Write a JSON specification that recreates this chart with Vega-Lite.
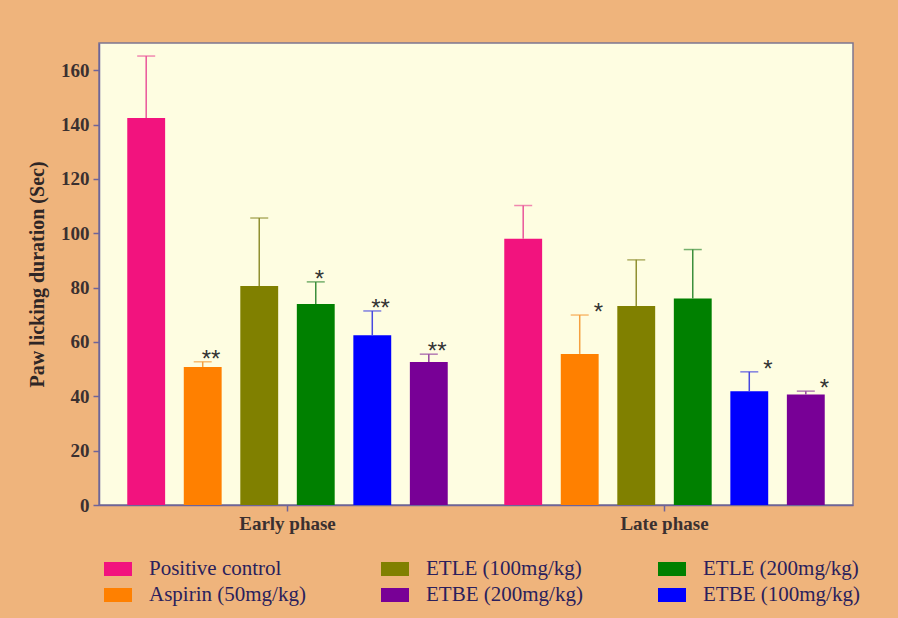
{
  "$schema": "https://vega.github.io/schema/vega-lite/v6.json",
  "width": 754,
  "height": 462,
  "autosize": {"type": "none"},
  "padding": {"left": 99, "top": 43, "right": 45, "bottom": 113},
  "background": "#EFB47C",
  "config": {
    "view": {"fill": "#FEFDE1", "stroke": "#7D7590", "strokeWidth": 1.5},
    "axis": {"grid": false, "domainColor": "#6E649A", "tickColor": "#6E649A", "domainWidth": 1.5, "tickWidth": 1.5, "tickSize": 6,
      "labelFont": "Liberation Serif", "labelFontWeight": "bold", "labelFontSize": 19, "labelColor": "#3A3030",
      "titleFont": "Liberation Serif", "titleFontWeight": "bold", "titleFontSize": 20, "titleColor": "#2E2626"}
  },
  "data": {"values": [
    {"phase": "Early phase", "group": "Positive control", "mean": 142.4, "upper": 165.2, "sig": ""},
    {"phase": "Early phase", "group": "Aspirin (50mg/kg)", "mean": 50.8, "upper": 52.7, "sig": "**"},
    {"phase": "Early phase", "group": "ETLE (100mg/kg)", "mean": 80.6, "upper": 105.6, "sig": ""},
    {"phase": "Early phase", "group": "ETLE (200mg/kg)", "mean": 74.0, "upper": 82.1, "sig": "*"},
    {"phase": "Early phase", "group": "ETBE (100mg/kg)", "mean": 62.5, "upper": 71.4, "sig": "**"},
    {"phase": "Early phase", "group": "ETBE (200mg/kg)", "mean": 52.6, "upper": 55.5, "sig": "**"},
    {"phase": "Late phase", "group": "Positive control", "mean": 98.0, "upper": 110.2, "sig": ""},
    {"phase": "Late phase", "group": "Aspirin (50mg/kg)", "mean": 55.6, "upper": 69.9, "sig": "*"},
    {"phase": "Late phase", "group": "ETLE (100mg/kg)", "mean": 73.2, "upper": 90.2, "sig": ""},
    {"phase": "Late phase", "group": "ETLE (200mg/kg)", "mean": 76.0, "upper": 94.0, "sig": ""},
    {"phase": "Late phase", "group": "ETBE (100mg/kg)", "mean": 41.9, "upper": 49.0, "sig": "*"},
    {"phase": "Late phase", "group": "ETBE (200mg/kg)", "mean": 40.7, "upper": 41.9, "sig": "*"}
  ]},
  "encoding": {
    "x": {"field": "phase", "type": "nominal", "scale": {"domain": ["Early phase", "Late phase"], "paddingInner": 0, "paddingOuter": 0},
      "axis": {"title": null, "labelAngle": 0, "labelPadding": 3}},
    "xOffset": {"field": "group", "type": "nominal", "scale": {"domain": ["Positive control", "Aspirin (50mg/kg)", "ETLE (100mg/kg)", "ETLE (200mg/kg)", "ETBE (100mg/kg)", "ETBE (200mg/kg)"], "paddingInner": 0.33, "paddingOuter": 0.5}}
  },
  "resolve": {"scale": {"color": "independent"}},
  "layer": [
    {
      "mark": {"type": "bar"},
      "encoding": {
        "y": {"field": "mean", "type": "quantitative", "scale": {"domain": [0, 170], "nice": false}, "axis": {"values": [0, 20, 40, 60, 80, 100, 120, 140, 160], "title": "Paw licking duration (Sec)", "labelPadding": 4, "titleX": -62, "titleBaseline": "middle"}},
        "color": {"field": "group", "type": "nominal",
          "scale": {"domain": ["Positive control", "Aspirin (50mg/kg)", "ETLE (100mg/kg)", "ETBE (200mg/kg)", "ETLE (200mg/kg)", "ETBE (100mg/kg)"],
            "range": ["#F2137E", "#FF8000", "#808000", "#780096", "#008000", "#0000FF"]},
          "legend": {"title": null, "orient": "none", "legendX": 7, "legendY": 514, "columns": 3, "columnPadding": 75, "rowPadding": 4, "padding": 0,
            "symbolType": "M-1.2,-0.6H1.2V0.6H-1.2Z", "symbolSize": 544, "symbolStrokeWidth": 0, "symbolOpacity": 1,
            "labelFont": "Liberation Serif", "labelFontSize": 21, "labelColor": "#2B1F5C", "labelOffset": 19, "labelLimit": 400}}
      }
    },
    {
      "mark": {"type": "rule", "strokeWidth": 1.5},
      "encoding": {
        "y": {"field": "mean", "type": "quantitative"},
        "y2": {"field": "upper"},
        "color": {"field": "group", "type": "nominal", "legend": null,
          "scale": {"domain": ["Positive control", "Aspirin (50mg/kg)", "ETLE (100mg/kg)", "ETBE (200mg/kg)", "ETLE (200mg/kg)", "ETBE (100mg/kg)"],
            "range": ["#E9559A", "#F5A040", "#8F8F30", "#93439F", "#3B8F3B", "#4848E0"]}}
      }
    },
    {
      "mark": {"type": "tick", "size": 18, "thickness": 1.5},
      "encoding": {
        "y": {"field": "upper", "type": "quantitative"},
        "color": {"field": "group", "type": "nominal", "legend": null,
          "scale": {"domain": ["Positive control", "Aspirin (50mg/kg)", "ETLE (100mg/kg)", "ETBE (200mg/kg)", "ETLE (200mg/kg)", "ETBE (100mg/kg)"],
            "range": ["#E9559A", "#F5A040", "#8F8F30", "#93439F", "#3B8F3B", "#4848E0"]}}
      }
    },
    {
      "transform": [{"filter": "datum.phase == 'Early phase'"}],
      "mark": {"type": "text", "align": "left", "baseline": "alphabetic", "dx": -1, "dy": 5, "font": "Liberation Sans", "fontSize": 24, "color": "#333333"},
      "encoding": {
        "y": {"field": "upper", "type": "quantitative"},
        "text": {"field": "sig"}
      }
    },
    {
      "transform": [{"filter": "datum.phase == 'Late phase'"}],
      "mark": {"type": "text", "align": "left", "baseline": "alphabetic", "dx": 14, "dy": 5, "font": "Liberation Sans", "fontSize": 24, "color": "#333333"},
      "encoding": {
        "y": {"field": "upper", "type": "quantitative"},
        "text": {"field": "sig"}
      }
    }
  ]
}
